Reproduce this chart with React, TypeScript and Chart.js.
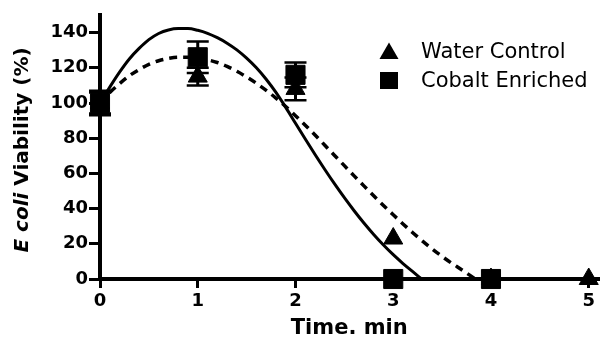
import React, { useEffect, useRef } from "react";
import { Chart, registerables } from "chart.js";

Chart.register(...registerables);

// ---- data ----
const waterTimes = [0, 1, 2, 3, 4, 5];
const waterMean = [100, 115, 108, 23, 0, 0];
const waterErr = [6, 5, 6.5, 0, 0, 0];

const cobaltTimes = [0, 1, 2, 3, 4];
const cobaltMean = [100, 126, 116, 0, 0];
const cobaltErr = [7, 9, 7, 0, 0];

// fitted curves
const waterFitT = [0, 0.1, 0.2, 0.3, 0.4, 0.5, 0.6, 0.7, 0.8, 0.9, 1.0, 1.1, 1.2, 1.3, 1.4, 1.5, 1.6, 1.7, 1.8, 1.9, 2.0, 2.1, 2.2, 2.3, 2.4, 2.5, 2.6, 2.7, 2.8, 2.9, 3.0, 3.1, 3.2, 3.29];
const waterFitY = [100, 109, 117.5, 125, 131, 136, 139.5, 141.5, 142.3, 142.3, 141.3, 139.6, 137.1, 134, 130.2, 125.5, 120, 113.5, 106, 97.5, 88.5, 79.5, 70.7, 62.2, 54, 46.2, 38.8, 31.8, 25.3, 19.3, 13.8, 8.8, 4.2, 0];

const cobaltFitT = [0, 0.1, 0.2, 0.3, 0.4, 0.5, 0.6, 0.7, 0.8, 0.9, 1.0, 1.1, 1.2, 1.3, 1.4, 1.5, 1.6, 1.7, 1.8, 1.9, 2.0, 2.1, 2.2, 2.3, 2.4, 2.5, 2.6, 2.7, 2.8, 2.9, 3.0, 3.1, 3.2, 3.3, 3.4, 3.5, 3.6, 3.7, 3.84];
const cobaltFitY = [100, 106, 111, 115.5, 119, 122, 124, 125.3, 126, 126, 125.5, 124.5, 123, 120.8, 118, 114.8, 111.2, 107.2, 102.8, 98, 92.8, 87.4, 81.8, 76, 70.2, 64.4, 58.6, 52.9, 47.3, 41.8, 36.5, 31.3, 26.3, 21.5, 17, 12.8, 8.9, 5.3, 0];

const xTicks = [0, 1, 2, 3, 4, 5];
const yTicks = [0, 20, 40, 60, 80, 100, 120, 140];

const seriesLabels = ["Water Control", "Cobalt Enriched"];
const xTitle = "Time. min";
const yTitleItalic = "E coli";
const yTitleRest = " Viability (%)";

const FONT = "'DejaVu Sans', sans-serif";

const toXY = (xs: number[], ys: number[]) => xs.map((x, i) => ({ x, y: ys[i] }));

const errorBarPlugin = {
  id: "errorBars",
  afterDatasetsDraw(chart: any) {
    const { ctx, scales } = chart;
    const sx = scales.x, sy = scales.y;
    const sets = [
      { t: waterTimes, m: waterMean, e: waterErr },
      { t: cobaltTimes, m: cobaltMean, e: cobaltErr },
    ];
    ctx.save();
    ctx.strokeStyle = "#000";
    sets.forEach((s) => {
      s.t.forEach((t, i) => {
        const err = s.e[i];
        if (!err) return;
        const px = sx.getPixelForValue(t);
        const top = sy.getPixelForValue(s.m[i] + err);
        const bot = sy.getPixelForValue(s.m[i] - err);
        ctx.lineWidth = 3;
        ctx.beginPath();
        ctx.moveTo(px, top);
        ctx.lineTo(px, bot);
        ctx.stroke();
        ctx.lineWidth = 2.5;
        ctx.beginPath();
        ctx.moveTo(px - 11, top);
        ctx.lineTo(px + 11, top);
        ctx.moveTo(px - 11, bot);
        ctx.lineTo(px + 11, bot);
        ctx.stroke();
      });
    });
    ctx.restore();
  },
};

const customLegendPlugin = {
  id: "customLegend",
  afterDraw(chart: any) {
    const { ctx } = chart;
    ctx.save();
    ctx.fillStyle = "#000";
    // triangle marker (Water Control)
    const cx = 389;
    const ty = 53.5, r = 11;
    ctx.beginPath();
    ctx.moveTo(cx, ty - r);
    ctx.lineTo(cx + r * Math.sin((2 * Math.PI) / 3), ty - r * Math.cos((2 * Math.PI) / 3));
    ctx.lineTo(cx - r * Math.sin((2 * Math.PI) / 3), ty - r * Math.cos((2 * Math.PI) / 3));
    ctx.closePath();
    ctx.fill();
    // square marker (Cobalt Enriched)
    ctx.fillRect(cx - 9, 80.5 - 8.5, 18, 17);
    ctx.font = `21px ${FONT}`;
    ctx.textBaseline = "middle";
    ctx.textAlign = "left";
    ctx.fillText(seriesLabels[0], 421, 53);
    ctx.fillText(seriesLabels[1], 421, 81.5);
    ctx.restore();
  },
};

const yTitlePlugin = {
  id: "yTitleMixed",
  afterDraw(chart: any) {
    const { ctx } = chart;
    ctx.save();
    const f1 = `italic bold 20px ${FONT}`;
    const f2 = `bold 20px ${FONT}`;
    ctx.font = f1;
    const w1 = ctx.measureText(yTitleItalic).width;
    ctx.font = f2;
    const w2 = ctx.measureText(yTitleRest).width;
    const total = w1 + w2;
    ctx.translate(23, 150);
    ctx.rotate(-Math.PI / 2);
    ctx.fillStyle = "#000";
    ctx.textBaseline = "middle";
    ctx.textAlign = "left";
    ctx.font = f1;
    ctx.fillText(yTitleItalic, -total / 2, 0);
    ctx.font = f2;
    ctx.fillText(yTitleRest, -total / 2 + w1, 0);
    ctx.restore();
  },
};

export default function App() {
  const ref = useRef<HTMLCanvasElement | null>(null);

  useEffect(() => {
    document.body.style.margin = "0";
    if (!ref.current) return;
    const chart = new Chart(ref.current, {
      type: "scatter",
      data: {
        datasets: [
          {
            label: seriesLabels[0],
            data: toXY(waterTimes, waterMean),
            pointStyle: "triangle",
            pointRadius: 11,
            pointHoverRadius: 11,
            backgroundColor: "#000",
            borderColor: "#000",
            borderWidth: 1,
            showLine: false,
            clip: false,
          } as any,
          {
            label: seriesLabels[1],
            data: toXY(cobaltTimes, cobaltMean),
            pointStyle: "rect",
            pointRadius: 13.5,
            pointHoverRadius: 13.5,
            backgroundColor: "#000",
            borderColor: "#000",
            borderWidth: 1,
            showLine: false,
            clip: false,
          } as any,
          {
            label: "Water fit",
            type: "line",
            data: toXY(waterFitT, waterFitY),
            borderColor: "#000",
            borderWidth: 3,
            pointRadius: 0,
            tension: 0.4,
            cubicInterpolationMode: "monotone",
            fill: false,
            clip: false,
          } as any,
          {
            label: "Cobalt fit",
            type: "line",
            data: toXY(cobaltFitT, cobaltFitY),
            borderColor: "#000",
            borderWidth: 3.5,
            borderDash: [8, 6],
            pointRadius: 0,
            tension: 0.4,
            cubicInterpolationMode: "monotone",
            fill: false,
            clip: false,
          } as any,
        ],
      },
      options: {
        animation: false,
        responsive: false,
        events: [],
        layout: { padding: { left: 0, top: 15, right: 13, bottom: 0 } },
        plugins: {
          legend: { display: false },
          tooltip: { enabled: false },
        },
        scales: {
          x: {
            type: "linear",
            min: 0,
            max: 5.1,
            afterBuildTicks: (s: any) => {
              s.ticks = xTicks.map((v) => ({ value: v }));
            },
            afterFit: (s: any) => {
              s.height = 60;
            },
            border: { display: true, color: "#000", width: 4 },
            grid: {
              display: true,
              drawOnChartArea: false,
              drawTicks: true,
              tickLength: 9,
              color: "#000",
              lineWidth: 3,
            },
            ticks: {
              color: "#000",
              font: { family: FONT, size: 18, weight: "bold" },
              padding: 3,
              maxRotation: 0,
            },
            title: {
              display: true,
              text: xTitle,
              color: "#000",
              font: { family: FONT, size: 21, weight: "bold", lineHeight: 1 },
              padding: { top: 0, bottom: 0 },
            },
          },
          y: {
            type: "linear",
            min: 0,
            max: 150,
            afterBuildTicks: (s: any) => {
              s.ticks = yTicks.map((v) => ({ value: v }));
            },
            afterFit: (s: any) => {
              s.width = 100;
            },
            border: { display: true, color: "#000", width: 4 },
            grid: {
              display: true,
              drawOnChartArea: false,
              drawTicks: true,
              tickLength: 11,
              color: "#000",
              lineWidth: 3,
            },
            ticks: {
              color: "#000",
              font: { family: FONT, size: 18, weight: "bold" },
              padding: 1,
            },
          },
        },
      } as any,
      plugins: [errorBarPlugin, customLegendPlugin, yTitlePlugin],
    });
    return () => chart.destroy();
  }, []);

  return (
    <div style={{ width: 613, height: 339 }}>
      <canvas ref={ref} width={613} height={339} style={{ display: "block" }} />
    </div>
  );
}
